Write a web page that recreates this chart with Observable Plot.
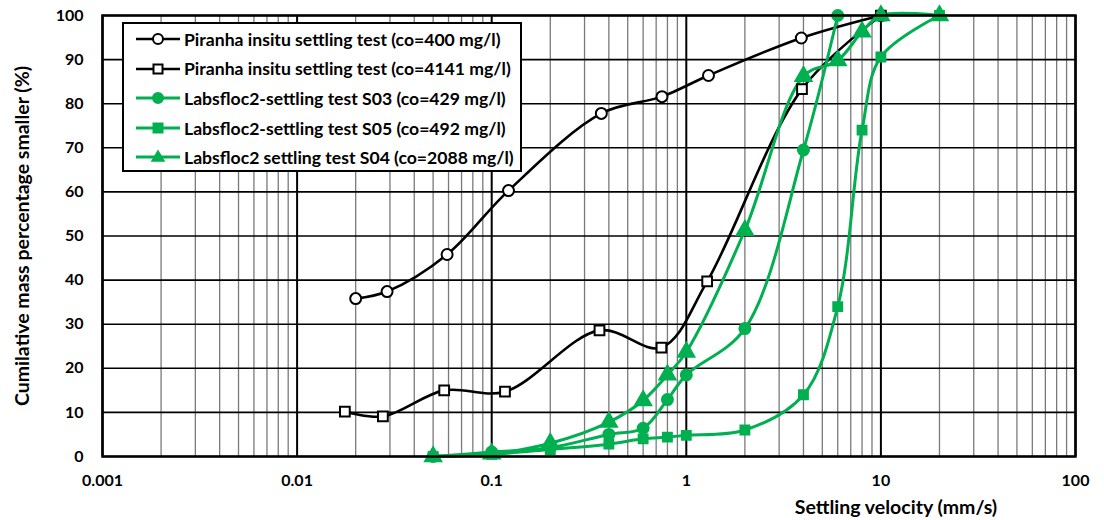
<!DOCTYPE html>
<html>
<head>
<meta charset="utf-8">
<script src="https://cdn.jsdelivr.net/npm/d3@7"></script>
<script src="https://cdn.jsdelivr.net/npm/@observablehq/plot@0.6"></script>
<style>
  html, body { margin: 0; padding: 0; background: #fff; }
  #wrap { position: relative; width: 1104px; height: 520px; font-family: Lato, "DejaVu Sans", sans-serif; }
  #legend { position: absolute; left: 122px; top: 22px; width: 396px; height: 146px; border: 2px solid #000; background: #fff; }
  .row { position: absolute; left: 12px; height: 20px; display: flex; align-items: center; font-weight: 700; font-size: 17.6px; color: #000; white-space: nowrap; }
  .row svg { margin-right: 4px; }
</style>
</head>
<body>
<div id="wrap"></div>
<script>
// ---- data ----
const xTicks = [0.001, 0.01, 0.1, 1, 10, 100];
const xTickLabels = ["0.001", "0.01", "0.1", "1", "10", "100"];
const yTicks = [0, 10, 20, 30, 40, 50, 60, 70, 80, 90, 100];

const seriesNames = [
  "Piranha insitu settling test (co=400 mg/l)",
  "Piranha insitu settling test (co=4141 mg/l)",
  "Labsfloc2-settling test S03 (co=429 mg/l)",
  "Labsfloc2-settling test S05 (co=492 mg/l)",
  "Labsfloc2 settling test S04 (co=2088 mg/l)"
];

const pir400X = [0.02, 0.029, 0.059, 0.122, 0.366, 0.75, 1.3, 3.9, 10];
const pir400Y = [35.8, 37.4, 45.8, 60.3, 77.8, 81.6, 86.4, 94.9, 100];

const pir4141X = [0.0176, 0.0276, 0.057, 0.117, 0.358, 0.745, 1.28, 3.93, 10];
const pir4141Y = [10.2, 9.1, 15.0, 14.7, 28.6, 24.7, 39.7, 83.3, 100];

const s03X = [0.05, 0.1, 0.2, 0.4, 0.6, 0.8, 1, 2, 4, 6];
const s03Y = [0, 1.0, 2.0, 5.0, 6.4, 12.9, 18.5, 29.0, 69.5, 100];

const s05X = [0.05, 0.1, 0.2, 0.4, 0.6, 0.8, 1, 2, 4, 6, 8, 10, 20];
const s05Y = [0, 0.5, 1.6, 2.8, 4.0, 4.4, 4.8, 6.0, 14.0, 34.0, 74.0, 90.6, 100];

const s04X = [0.05, 0.1, 0.2, 0.4, 0.6, 0.8, 1, 2, 4, 6, 8, 10, 20];
const s04Y = [0, 0.6, 3.0, 7.8, 12.7, 18.5, 23.7, 51.3, 86.2, 89.8, 96.3, 100, 100];

const axisYLabel = "Cumilative mass percentage smaller (%)";
const axisXLabel = "Settling velocity (mm/s)";

// ---- styles ----
const GREEN = "#00B050";
const styles = [
  {symbol: "circle", fill: "#fff", stroke: "#000", color: "#000", r: 5.5},
  {symbol: "square", fill: "#fff", stroke: "#000", color: "#000", r: 5.5},
  {symbol: "circle", fill: GREEN, stroke: GREEN, color: GREEN, r: 5.5},
  {symbol: "square", fill: GREEN, stroke: GREEN, color: GREEN, r: 5.0},
  {symbol: "triangle", fill: GREEN, stroke: GREEN, color: GREEN, r: 6.0}
];
const xs = [pir400X, pir4141X, s03X, s05X, s04X];
const ys = [pir400Y, pir4141Y, s03Y, s05Y, s04Y];
const series = xs.map((X, i) => X.map((x, j) => ({x, y: ys[i][j], s: i})));

// minor log grid positions
const minorX = [];
for (const d of xTicks.slice(0, -1)) for (let k = 2; k <= 9; k++) minorX.push(+(d * k).toPrecision(3));

const xFmt = d => { const i = xTicks.findIndex(t => Math.abs(Math.log10(t) - Math.log10(d)) < 1e-6); return i >= 0 ? xTickLabels[i] : ""; };

const marks = [
  Plot.gridX(minorX, {stroke: "#7a7a7a", strokeOpacity: 1, strokeWidth: 1.3}),
  Plot.gridX(xTicks, {stroke: "#000", strokeOpacity: 1, strokeWidth: 2}),
  Plot.gridY(yTicks, {stroke: "#000", strokeOpacity: 1, strokeWidth: 1.6}),
  Plot.text(xTicks, {x: d => d, frameAnchor: "bottom", lineAnchor: "top", dy: 18, text: xFmt, fontSize: 16, fontWeight: "bold"}),
  Plot.axisY(yTicks, {tickSize: 0, tickPadding: 19, fontSize: 16, fontWeight: "bold", label: null}),
  Plot.text([axisYLabel], {frameAnchor: "left", textAnchor: "middle", rotate: -90, dx: -80, fontSize: 19.5, fontWeight: "bold"}),
  Plot.text([axisXLabel], {frameAnchor: "bottom", textAnchor: "middle", lineAnchor: "middle", dx: 307, dy: 51, fontSize: 19.5, fontWeight: "bold"}),
];
series.forEach((data, i) => {
  const st = styles[i];
  marks.push(Plot.line(data, {x: "x", y: "y", curve: "catmull-rom", stroke: st.color, strokeWidth: i < 2 ? 2.6 : 3}));
});
series.forEach((data, i) => {
  const st = styles[i];
  marks.push(Plot.dot(data, {x: "x", y: "y", symbol: () => st.symbol, r: st.r, fill: st.fill, stroke: st.stroke, strokeWidth: 2}));
});
marks.push(Plot.frame({stroke: "#000", strokeWidth: 2.5}));

const chart = Plot.plot({
  width: 1104,
  height: 520,
  marginLeft: 102,
  marginRight: 29,
  marginTop: 15,
  marginBottom: 64,
  style: {fontFamily: "Lato, 'DejaVu Sans', sans-serif", color: "#000", background: "#fff", overflow: "visible"},
  x: {type: "log", domain: [0.001, 100], axis: null},
  y: {domain: [0, 100]},
  symbol: {type: "identity"},
  marks
});
const wrap = document.getElementById("wrap");
wrap.appendChild(chart);

// ---- legend overlay (inside plot area, as in reference) ----
const legend = document.createElement("div");
legend.id = "legend";
const rowTops = [5, 34.5, 64, 94, 123];
seriesNames.forEach((name, i) => {
  const st = styles[i];
  const row = document.createElement("div");
  row.className = "row";
  row.style.top = rowTops[i] + "px";
  const sym = st.symbol === "circle"
    ? `<circle cx="22" cy="10" r="5" fill="${st.fill}" stroke="${st.stroke}" stroke-width="2"/>`
    : st.symbol === "square"
    ? `<rect x="17.5" y="5.5" width="9" height="9" fill="${st.fill}" stroke="${st.stroke}" stroke-width="2"/>`
    : `<path d="M22,4 L28,14 L16,14 Z" fill="${st.fill}" stroke="${st.stroke}" stroke-width="1.5"/>`;
  row.innerHTML = `<svg width="44" height="20"><line x1="0" x2="44" y1="10" y2="10" stroke="${st.color}" stroke-width="${i < 2 ? 2.6 : 3}"/>${sym}</svg><span>${name}</span>`;
  legend.appendChild(row);
});
wrap.appendChild(legend);
</script>
</body>
</html>
